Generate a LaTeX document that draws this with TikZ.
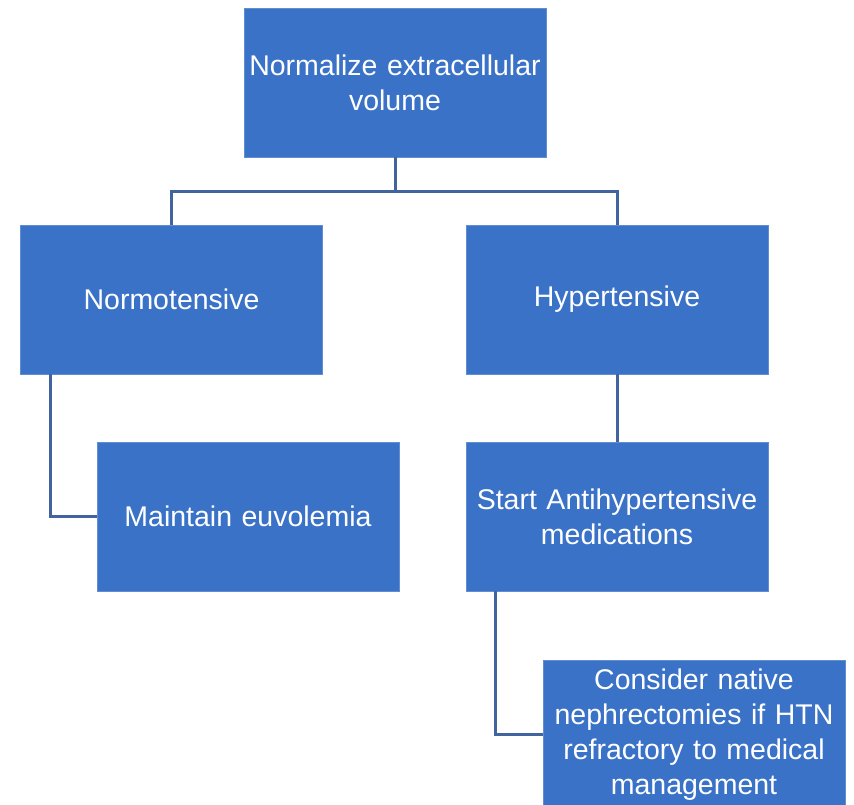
\documentclass[tikz,border=0pt]{standalone}
\usepackage{fontspec}
\setmainfont{Liberation Sans}
\usetikzlibrary{positioning,calc}
\definecolor{boxblue}{HTML}{3A72C8}
\definecolor{linkblue}{HTML}{41649E}
\tikzset{
  step box/.style={rectangle, draw=boxblue!80!white, fill=boxblue, line width=0.8pt,
                   minimum width=302pt, minimum height=149pt, inner sep=1pt,
                   text width=300pt, align=center, text=white,
                   font=\fontsize{28.5}{35}\selectfont},
  link/.style={draw=linkblue, line width=3pt},
}
\begin{document}
\begin{tikzpicture}[x=1pt,y=-1pt]
  \useasboundingbox (0,0) rectangle (854,805);
  \clip (0,0) rectangle (854,805);
  % boxes
  \node[step box] (normvol)  at (395,82.5)  {Normalize extracellular\\volume};
  \node[step box] (normo)    at (171.5,299.5) {Normotensive};
  \node[step box] (hyper)    at (617,299.5)  {Hypertensive};
  \node[step box] (euvol)    at (248,516.5)  {Maintain euvolemia};
  \node[step box] (antihyp)  at (617,516.5)  {Start Antihypertensive\\medications};
  \node[step box] (nephrect) at (694,734.5)  {Consider native\\nephrectomies if HTN\\refractory to medical\\management};
  % connectors
  \coordinate (split) at ($(normvol.south)+(0,34)$);
  \draw[link] (normvol.south) -- (split) -| (normo.north);
  \draw[link] (split) -| (hyper.north);
  \coordinate (normofoot) at ($(normo.south west)+(30,0)$);
  \draw[link] (normofoot) |- (euvol.west);
  \draw[link] (hyper.south) -- (antihyp.north);
  \coordinate (antifoot) at ($(antihyp.south west)+(30,0)$);
  \draw[link] (antifoot) |- (nephrect.west);
\end{tikzpicture}
\end{document}
